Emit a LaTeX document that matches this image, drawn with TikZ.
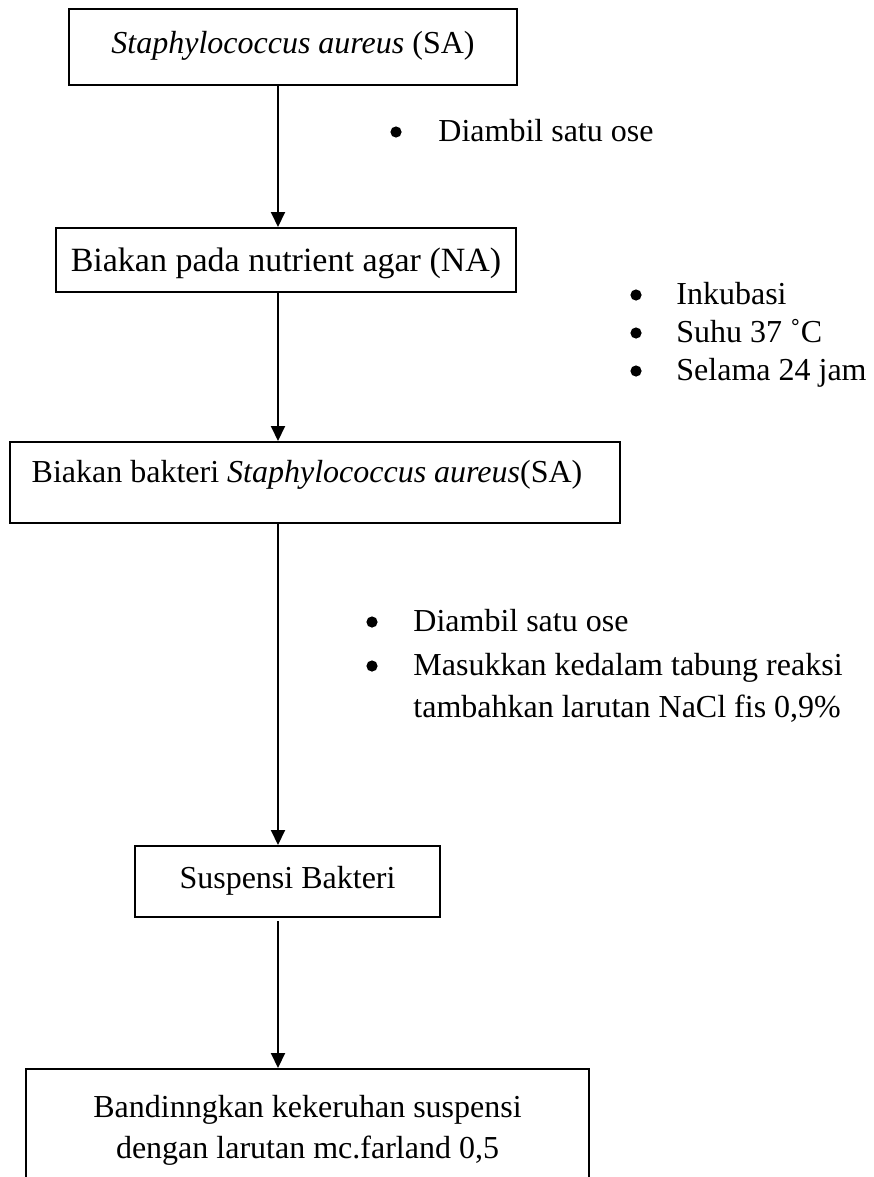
\documentclass[tikz,border=0pt]{standalone}
\usepackage{fontspec}
\setmainfont{Liberation Serif}
\usetikzlibrary{arrows.meta}
\begin{document}
\begin{tikzpicture}[x=0.5pt,y=-0.5pt,
  every node/.style={font=\fontsize{16}{20.5}\selectfont},
  big/.style={font=\fontsize{17}{20.5}\selectfont},
  box/.style={draw,line width=1pt,inner sep=0pt},
  arr/.style={line width=1pt,-{Triangle[length=7.5pt,width=7pt]}},
  bul/.style={circle,fill=black,inner sep=0pt,minimum size=5.6pt},
  itm/.style={inner sep=0pt,anchor=base west}]
\useasboundingbox (0,0) rectangle (873,1177);
\clip (0,0) rectangle (873,1177);
\coordinate (colx) at (278,0);

% boxes
\node[box,minimum width=224pt,minimum height=38pt,text height=11pt,text depth=4.4pt] (b1) at (293,47)
  {\textit{Staphylococcus aureus} (SA)};
\node[box,big,minimum width=230pt,minimum height=32pt,text height=12pt,text depth=0.8pt] (b2) at (286,260)
  {Biakan pada nutrient agar (NA)};
\node[box,minimum width=305pt,minimum height=40.5pt,text height=11pt,text depth=10.9pt] (b3) at (315,482.5)
  {Biakan bakteri \textit{Staphylococcus aureus}(SA)\hspace*{8pt}};
\node[box,minimum width=152.5pt,minimum height=35.5pt,text height=11pt,text depth=3.9pt] (b4) at (287.5,881.5)
  {Suspensi Bakteri};
\node[box,minimum width=281.5pt,anchor=north,inner ysep=13.1pt,align=center] (b5) at (307.5,1068)
  {Bandinngkan kekeruhan suspensi\\dengan larutan mc.farland 0,5};

% connectors
\draw[arr] (b1.south -| colx) -- (b2.north -| colx);
\draw[arr] (b2.south -| colx) -- (b3.north -| colx);
\draw[arr] (b3.south -| colx) -- (b4.north -| colx);
\draw[arr,shorten <=1.5pt] (b4.south -| colx) -- (b5.north -| colx);

% notes
\node[bul] (d1) at (396,132) {};
\node[itm] (t1) at (438,141) {Diambil satu ose};

\node[bul] (d2) at (636,295) {};
\node[itm] (t2) at (676,304) {Inkubasi};
\node[bul] (d3) at (636,333) {};
\node[itm] (t3) at (676,342) {Suhu 37 ˚C};
\node[bul] (d4) at (636,371) {};
\node[itm] (t4) at (676,380) {Selama 24 jam};

\node[bul] (d5) at (372,622) {};
\node[itm] (t5) at (413,631) {Diambil satu ose};
\node[bul] (d6) at (372,666) {};
\node[itm] (t6) at (413,675) {Masukkan kedalam tabung reaksi};
\node[itm] (t7) at (413,717) {tambahkan larutan NaCl fis 0,9\%};
\end{tikzpicture}
\end{document}
